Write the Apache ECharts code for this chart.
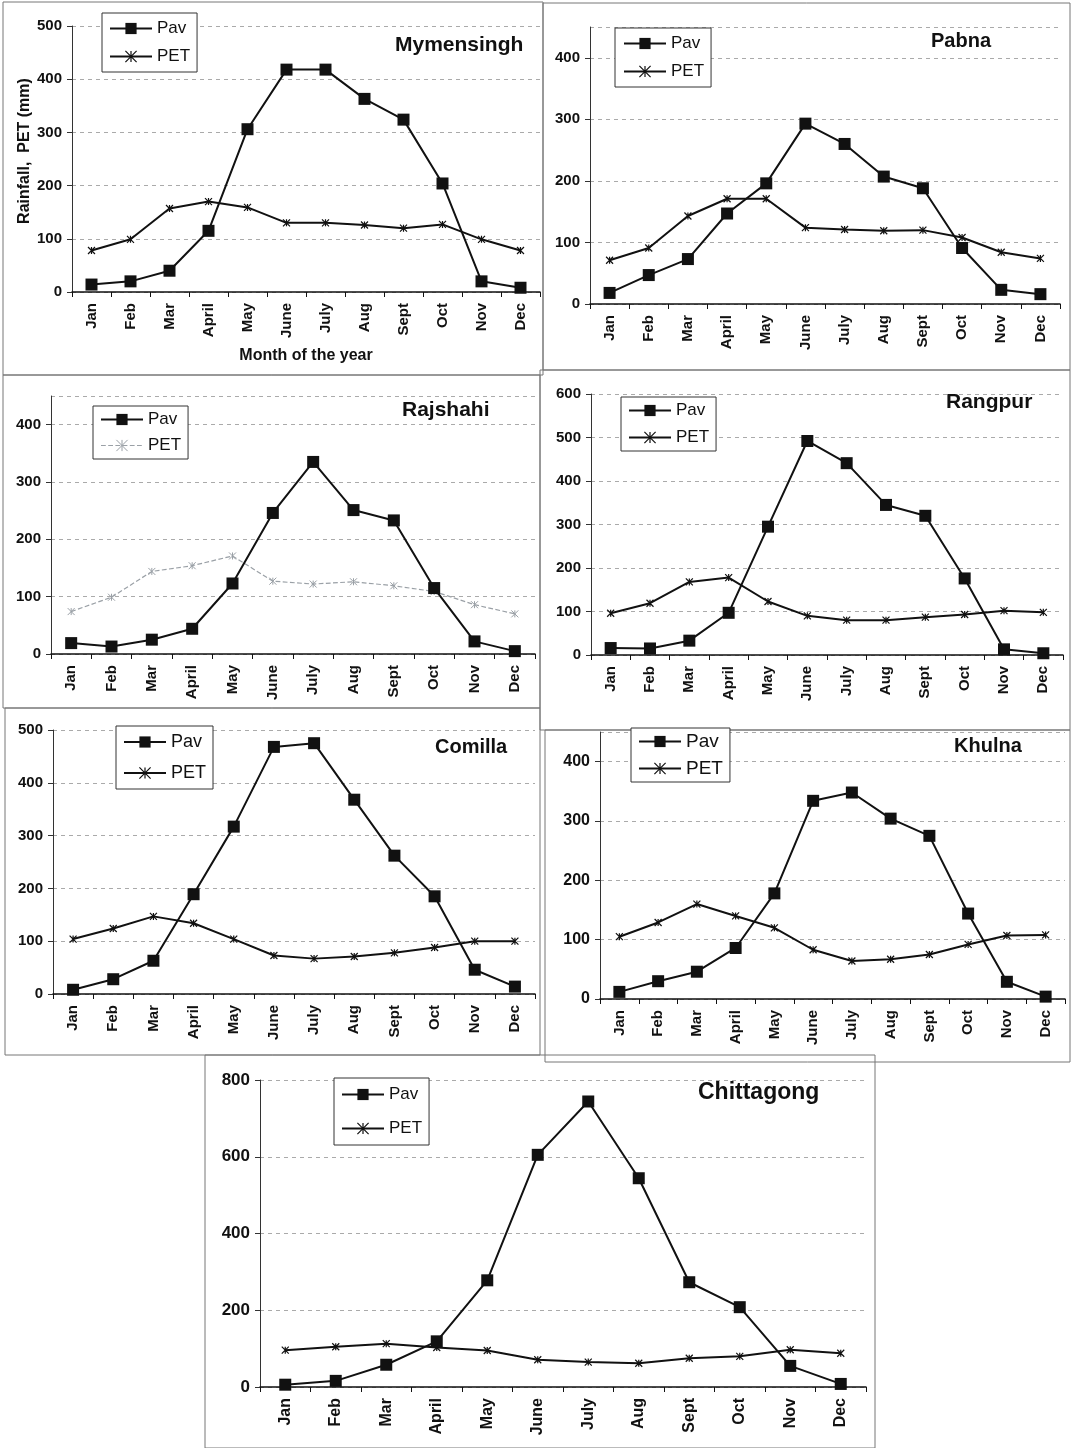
<!DOCTYPE html>
<html><head><meta charset="utf-8">
<style>html,body{margin:0;padding:0;background:#fff}#c{width:1076px;height:1448px}</style>
<script src="https://cdn.jsdelivr.net/npm/echarts@6.0.0/dist/echarts.min.js"></script>
</head><body><div id="c"></div>
<script>
// ---- data ----
const months = ['Jan','Feb','Mar','April','May','June','July','Aug','Sept','Oct','Nov','Dec'];
const mymensinghPav = [14,20,40,115,306,418,418,363,324,204,20,8];
const mymensinghPet = [78,99,157,170,159,130,130,126,120,127,99,78];
const pabnaPav = [18,47,73,147,196,293,260,207,188,91,23,16];
const pabnaPet = [71,91,143,171,171,124,121,119,120,108,84,74];
const rajshahiPav = [19,13,25,44,123,246,335,251,233,115,22,5];
const rajshahiPet = [74,99,144,154,171,127,122,126,119,109,86,70];
const rangpurPav = [16,15,33,97,295,492,441,345,320,176,13,4];
const rangpurPet = [96,119,168,178,123,90,80,80,87,93,102,98];
const comillaPav = [8,28,63,189,317,468,475,368,262,185,46,14];
const comillaPet = [104,124,147,134,104,73,67,71,78,88,100,100];
const khulnaPav = [12,30,46,86,178,334,348,304,275,144,29,4];
const khulnaPet = [105,129,160,140,120,83,64,67,75,92,107,108];
const chittagongPav = [6,16,58,119,278,605,744,544,273,208,55,8];
const chittagongPet = [96,105,113,103,95,71,65,62,75,80,97,88];
const seriesNames = ['Pav','PET'];
const yAxisName = 'Rainfall,  PET (mm)';
const xAxisName = 'Month of the year';

// ---- layout ----
const panels = [
  {title:'Mymensingh', pav:mymensinghPav, pet:mymensinghPet, max:500, interval:100,
   grid:{left:72,top:26,width:468,height:266}, tl:[395,35], tf:21,
   lg:{left:102,top:13,fs:17,gap:11,pad:[7,7,7,7]}, lf:15, yf:15, yname:true},
  {title:'Pabna', pav:pabnaPav, pet:pabnaPet, max:450, interval:100,
   grid:{left:590,top:27,width:470,height:277}, tl:[931,31], tf:20,
   lg:{left:615,top:28,fs:17,gap:11,pad:[7,7,7,8]}, lf:15, yf:15},
  {title:'Rajshahi', pav:rajshahiPav, pet:rajshahiPet, max:450, interval:100,
   grid:{left:51,top:396,width:484,height:258}, tl:[402,400], tf:21,
   lg:{left:93,top:406,fs:17,gap:9,pad:[5,7,5,7]}, lf:15, yf:15, faintPet:true},
  {title:'Rangpur', pav:rangpurPav, pet:rangpurPet, max:600, interval:100,
   grid:{left:591,top:394,width:472,height:261}, tl:[946,392], tf:21,
   lg:{left:621,top:397,fs:17,gap:10,pad:[5,7,5,7]}, lf:15, yf:15},
  {title:'Comilla', pav:comillaPav, pet:comillaPet, max:500, interval:100,
   grid:{left:53,top:730,width:482,height:264}, tl:[435,737], tf:20,
   lg:{left:116,top:726,fs:18,gap:13,pad:[7,7,7,7]}, lf:15, yf:15},
  {title:'Khulna', pav:khulnaPav, pet:khulnaPet, max:450, interval:100,
   grid:{left:600,top:732,width:465,height:267}, tl:[954,736], tf:20,
   lg:{left:631,top:728,fs:19,gap:8,pad:[4,7,4,7]}, lf:15, yf:16},
  {title:'Chittagong', pav:chittagongPav, pet:chittagongPet, max:800, interval:200,
   grid:{left:260,top:1080,width:606,height:307}, tl:[698,1081], tf:23,
   lg:{left:334,top:1078,fs:17,gap:17,pad:[8,7,8,7]}, lf:16, yf:17}
];
const frames = [
  [3,2,540,373],[543,3,527,367],[3,375,537,333],[540,370,530,360],
  [5,708,535,347],[545,730,525,332],[205,1055,670,393]
];

const ink = '#111';
const font = 'Liberation Sans, Arial, sans-serif';
const starPath = 'path://M0,0L10,10M10,0L0,10M5,0L5,10';
const option = {animation:false, backgroundColor:'#fff',
  title:[], legend:[], grid:[], xAxis:[], yAxis:[], series:[], graphic:[]};

frames.forEach(f=>option.graphic.push({type:'rect', silent:true, z:-10,
  shape:{x:f[0],y:f[1],width:f[2],height:f[3]}, style:{fill:'none',stroke:'#777',lineWidth:1}}));

panels.forEach((p,i)=>{
  option.grid.push(Object.assign({containLabel:false}, p.grid));
  option.title.push({text:p.title, left:p.tl[0], top:p.tl[1], padding:0,
    textStyle:{fontFamily:font, fontWeight:'bold', fontSize:p.tf, color:ink}});
  const petItem = {name:seriesNames[1]};
  if (p.faintPet) {
    petItem.lineStyle = {color:'#9aa0a6', type:'dashed', width:1.2};
    petItem.itemStyle = {color:'#9aa0a6', borderColor:'#9aa0a6', borderWidth:1};
  } else {
    petItem.lineStyle = {color:ink, type:'solid', width:2};
    petItem.itemStyle = {color:ink, borderColor:ink, borderWidth:1.2};
  }
  option.legend.push({orient:'vertical', left:p.lg.left, top:p.lg.top,
    padding:p.lg.pad, itemGap:p.lg.gap, itemWidth:42, itemHeight:14,
    borderColor:'#333', borderWidth:1, backgroundColor:'#fff', selectedMode:false,
    textStyle:{fontFamily:font, fontSize:p.lg.fs, lineHeight:p.lg.fs, color:ink},
    data:[{name:seriesNames[0]}, petItem]});
  option.xAxis.push({type:'category', gridIndex:i, data:months, boundaryGap:true,
    name: p.yname ? xAxisName : '', nameLocation:'middle', nameGap:56,
    nameTextStyle:{fontFamily:font, fontWeight:'bold', fontSize:16, color:ink},
    axisLine:{lineStyle:{color:'#111', width:1.5}},
    axisTick:{show:true, length:5, lineStyle:{color:'#111'}},
    axisLabel:{rotate:90, margin:11, interval:0, fontFamily:font, fontWeight:'bold', fontSize:p.lf, color:ink},
    splitLine:{show:false}});
  option.yAxis.push({type:'value', gridIndex:i, min:0, max:p.max, interval:p.interval,
    name: p.yname ? yAxisName : '', nameLocation:'middle', nameGap:37, nameRotate:90,
    nameTextStyle:{fontFamily:font, fontWeight:'bold', fontSize:16, color:ink, padding:[0,0,0,16]},
    axisLine:{show:true, lineStyle:{color:'#333', width:1}},
    axisTick:{show:true, length:5, lineStyle:{color:'#333'}},
    axisLabel:{margin:10, showMaxLabel: p.max % p.interval === 0, fontFamily:font, fontWeight:'bold', fontSize:p.yf, color:ink},
    splitLine:{show:true, lineStyle:{color:'#aaa', type:[4,4], width:1}}});
  option.series.push({type:'line', name:seriesNames[1], xAxisIndex:i, yAxisIndex:i, data:p.pet,
    symbol:starPath, symbolSize:7, z:2,
    lineStyle:petItem.lineStyle, itemStyle:petItem.itemStyle});
  option.series.push({type:'line', name:seriesNames[0], xAxisIndex:i, yAxisIndex:i, data:p.pav,
    symbol:'rect', symbolSize:12, z:3,
    lineStyle:{color:ink, width:2}, itemStyle:{color:ink}});
});

const chart = echarts.init(document.getElementById('c'), null, {renderer:'canvas'});
chart.setOption(option);
</script>
</body></html>
